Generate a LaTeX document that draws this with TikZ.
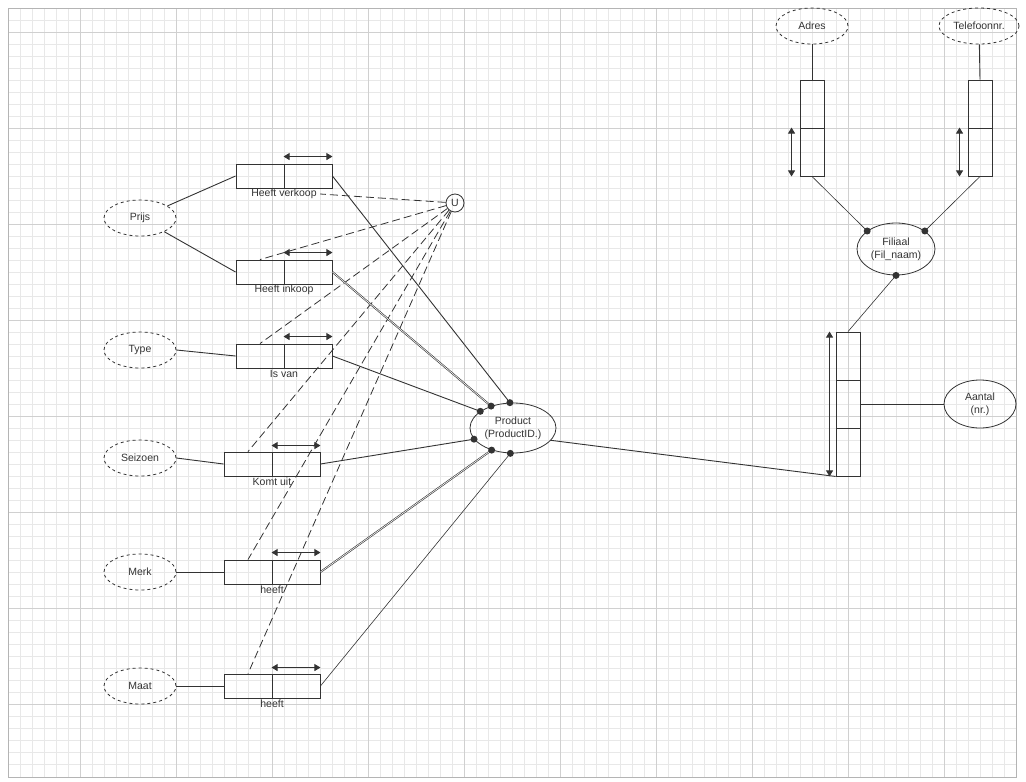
\documentclass[tikz,border=0pt]{standalone}
\usepackage{fontspec}
\setmainfont{Liberation Sans}
\usetikzlibrary{shapes.geometric,arrows.meta,positioning}
\definecolor{lijn}{HTML}{333333}
\definecolor{rooster}{HTML}{E8E8E8}
\definecolor{roosterdik}{HTML}{D0D0D0}
\definecolor{rand}{HTML}{B4B4B4}

\begin{document}
\begin{tikzpicture}[x=1pt,y=-1pt,
  every node/.style={font=\fontsize{10.5}{13}\selectfont,text=lijn},
  attr/.style={ellipse,draw=lijn,dashed,line width=0.8pt,minimum width=72pt,minimum height=36pt,inner sep=0pt},
  ent/.style={ellipse,draw=lijn,line width=0.8pt,align=center,inner sep=0pt},
  cel/.style={rectangle,draw=lijn,line width=0.9pt,minimum width=48pt,minimum height=24pt,inner sep=0pt},
  vcel/.style={rectangle,draw=lijn,line width=0.9pt,minimum width=24pt,minimum height=48pt,inner sep=0pt},
  lijnen/.style={draw=lijn,line width=0.9pt},
  dun/.style={draw=lijn,line width=0.6pt},
  dubbel/.style={draw=lijn,line width=0.6pt,double=white,double distance=0.6pt},
  streep/.style={draw=lijn,line width=0.8pt,dash pattern=on 8pt off 4pt},
  uniek/.style={lijnen,{Triangle[length=6pt,width=7pt]}-{Triangle[length=6pt,width=7pt]}}]

\useasboundingbox (0,0) rectangle (1026,782);

% raster
\foreach \x in {20,32,...,1004}
  \draw[rooster] (\x,8) -- (\x,777);
\foreach \y in {20,32,...,764}
  \draw[rooster] (8,\y) -- (1016,\y);
\foreach \x in {80,176,...,1000}
  \draw[roosterdik] (\x,8) -- (\x,777);
\foreach \y in {32,128,...,770}
  \draw[roosterdik] (8,\y) -- (1016,\y);
\draw[rand] (8,8) rectangle (1016,777);

% Prijs
\node[attr] (prijs) at (140,218) {Prijs};
\node[cel] (hvL) at (260,176) {};
\node[cel] (hvR) at (308,176) {};
\node (hvT) at (284,194) {Heeft verkoop};
\node[cel] (hiL) at (260,272) {};
\node[cel] (hiR) at (308,272) {};
\node (hiT) at (284,290) {Heeft inkoop};

% Type
\node[attr] (type) at (140,350) {Type};
\node[cel] (ivL) at (260,356) {};
\node[cel] (ivR) at (308,356) {};
\node (ivT) at (284,374) {Is van};

% Seizoen
\node[attr] (seizoen) at (140,458) {Seizoen};
\node[cel] (kuL) at (248,464) {};
\node[cel] (kuR) at (296,464) {};
\node (kuT) at (272,482) {Komt uit};

% Merk
\node[attr] (merk) at (140,572) {Merk};
\node[cel] (meL) at (248,572) {};
\node[cel] (meR) at (296,572) {};
\node (meT) at (272,590) {heeft};

% Maat
\node[attr] (maat) at (140,686) {Maat};
\node[cel] (maL) at (248,686) {};
\node[cel] (maR) at (296,686) {};
\node (maT) at (272,704) {heeft};

% uniciteit
\node[circle,draw=lijn,line width=0.8pt,minimum size=18pt,inner sep=0pt] (u) at (455,203) {U};

% Product
\node[ent,minimum width=86pt,minimum height=50pt] (prod) at (513,428) {Product\\(ProductID.)};

% Filiaal
\node[attr] (adres) at (812,26) {Adres};
\node[attr,minimum width=80pt] (tel) at (979,26) {Telefoonnr.};
\node[vcel] (adT) at (812,104) {};
\node[vcel] (adB) at (812,152) {};
\node[vcel] (tfT) at (980,104) {};
\node[vcel] (tfB) at (980,152) {};
\node[ent,minimum width=78pt,minimum height=52pt] (fil) at (896,249) {Filiaal\\(Fil\_naam)};

% Aantal
\node[vcel] (aa1) at (848,356) {};
\node[vcel] (aa2) at (848,404) {};
\node[vcel] (aa3) at (848,452) {};
\node[ent,minimum width=72pt,minimum height=48pt] (aantal) at (980,404) {Aantal\\(nr.)};

% rollen links
\draw[lijnen] (prijs) -- (hvL.west);
\draw[lijnen] (prijs) -- (hiL.west);
\draw[lijnen] (type.east) -- (ivL.west);
\draw[lijnen] (seizoen.east) -- (kuL.west);
\draw[lijnen] (merk.east) -- (meL.west);
\draw[lijnen] (maat.east) -- (maL.west);

% uniciteitspijlen
\draw[uniek] ([yshift=7pt]hvR.north west) -- ([yshift=7pt]hvR.north east);
\draw[uniek] ([yshift=7pt]hiR.north west) -- ([yshift=7pt]hiR.north east);
\draw[uniek] ([yshift=7pt]ivR.north west) -- ([yshift=7pt]ivR.north east);
\draw[uniek] ([yshift=6pt]kuR.north west) -- ([yshift=6pt]kuR.north east);
\draw[uniek] ([yshift=7pt]meR.north west) -- ([yshift=7pt]meR.north east);
\draw[uniek] ([yshift=6pt]maR.north west) -- ([yshift=6pt]maR.north east);
\draw[uniek] ([xshift=-8pt]adB.north west) -- ([xshift=-8pt]adB.south west);
\draw[uniek] ([xshift=-8pt]tfB.north west) -- ([xshift=-8pt]tfB.south west);
\draw[uniek] ([xshift=-6pt]aa1.north west) -- ([xshift=-6pt]aa3.south west);

% U naar de feittypen
\draw[streep] (u) -- (hvT.east);
\draw[streep] (u) -- (hiL.north);
\draw[streep] (u) -- (ivL.north);
\draw[streep] (u) -- (kuL.north);
\draw[streep] (u) -- (meL.north);
\draw[streep] (u) -- (maL.north);

% rollen naar Product
\draw[lijnen] (hvR.east) -- (prod.97);
\draw[dubbel] (hiR.east) -- (prod.135);
\draw[lijnen] (ivR.east) -- (prod.153);
\draw[lijnen] (kuR.east) -- (prod.196);
\draw[dubbel] (meR.east) -- (prod.226);
\draw[dun] (maR.east) -- (prod.264);
\foreach \a in {97,135,153,196,226,264}
  \fill[lijn] (prod.\a) circle (3.5pt);

% Filiaal
\draw[lijnen] (adres) -- (adT.north);
\draw[lijnen] (tel) -- (tfT.north);
\draw[dun] (adB.south) -- (fil.148);
\draw[dun] (tfB.south) -- (fil.32);
\draw[dun] (fil.south) -- (aa1.north);
\foreach \a in {148,32,270}
  \fill[lijn] (fil.\a) circle (3.5pt);

% Aantal
\draw[lijnen] (aa2.east) -- (aantal.west);
\draw[lijnen] (prod.-18) -- (aa3.south west);

\end{tikzpicture}
\end{document}
